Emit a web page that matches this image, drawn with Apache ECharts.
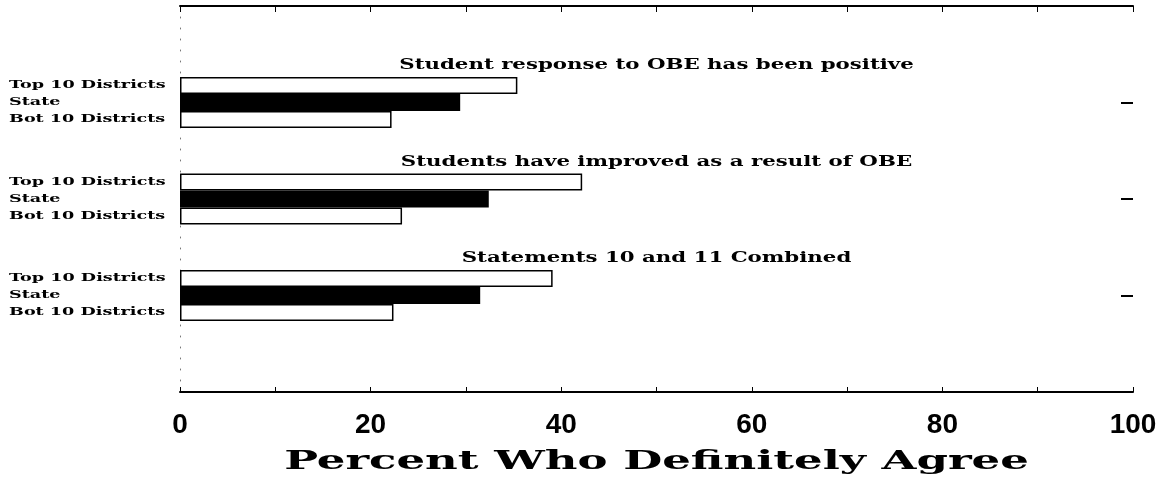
<!DOCTYPE html>
<html>
<head>
<meta charset="utf-8">
<script src="https://cdn.jsdelivr.net/npm/echarts@6/dist/echarts.min.js"></script>
<style>
  html, body { margin: 0; padding: 0; background: #fff; }
  #chart { width: 1167px; height: 479px; }
</style>
</head>
<body>
<div id="chart"></div>
<script>
// Survey statements (one group of bars each)
const statements = [
  'Student response to OBE has been positive',
  'Students have improved as a result of OBE',
  'Statements 10 and 11 Combined'
];
// Row labels inside each group
const rowLabels = ['Top 10 Districts', 'State', 'Bot 10 Districts'];
// Percent who definitely agree
const top10Values = [35.4, 42.2, 39.1];
const stateValues = [29.4, 32.4, 31.5];
const bot10Values = [22.2, 23.3, 22.4];
// Axis tick labels and title
const xTickLabels = ['0', '20', '40', '60', '80', '100'];
const xAxisTitle = 'Percent Who Definitely Agree';

const GRID = { left: 180, right: 34, top: 6, bottom: 87, outerBoundsMode: 'none' };
const BAR_W = 17;

// pad with empty slots above and below so the groups sit on the inner ticks
const cats = [''].concat(statements, ['']);
const pad = arr => [null].concat(arr, [null]);

const outline = { color: '#fff', borderColor: '#000', borderWidth: 1.5 };

const chart = echarts.init(document.getElementById('chart'), null, { renderer: 'canvas' });
chart.setOption({
  animation: false,
  backgroundColor: '#fff',
  grid: GRID,
  xAxis: [
    {
      type: 'value', min: 0, max: 100, interval: 10, position: 'bottom',
      axisLine: { show: true, onZero: false, lineStyle: { color: '#000', width: 2 } },
      axisTick: { show: true, inside: true, length: 5, lineStyle: { color: '#000', width: 1 } },
      splitLine: { show: false },
      axisLabel: {
        margin: 19,
        formatter: v => (v % 20 === 0 ? xTickLabels[v / 20] : ''),
        color: '#000',
        fontFamily: '"Liberation Sans Narrow", "Liberation Sans", sans-serif',
        fontWeight: 'bold',
        fontSize: 28
      }
    },
    {
      type: 'value', min: 0, max: 100, interval: 10, position: 'top',
      axisLine: { show: true, onZero: false, lineStyle: { color: '#000', width: 2 } },
      axisTick: { show: true, inside: true, length: 6, lineStyle: { color: '#000', width: 1 } },
      splitLine: { show: false },
      axisLabel: { show: false }
    }
  ],
  yAxis: [
    {
      type: 'category', data: cats, inverse: true, boundaryGap: false,
      axisLine: { show: true, onZero: false, lineStyle: { color: '#777', width: 1, type: [1, 10] } },
      axisTick: { show: false },
      axisLabel: { show: false },
      splitLine: { show: false }
    },
    {
      type: 'category', data: cats, inverse: true, boundaryGap: false, position: 'right',
      axisLine: { show: false, onZero: false },
      axisTick: {
        show: true, inside: true, length: 12,
        interval: (i, v) => v !== '',
        lineStyle: { color: '#000', width: 2 }
      },
      axisLabel: { show: false },
      splitLine: { show: false }
    }
  ],
  series: [
    { name: rowLabels[0], type: 'bar', data: pad(top10Values), barWidth: BAR_W, barGap: '0%', itemStyle: outline },
    { name: rowLabels[1], type: 'bar', data: pad(stateValues), barWidth: BAR_W, barGap: '0%', itemStyle: { color: '#000' } },
    { name: rowLabels[2], type: 'bar', data: pad(bot10Values), barWidth: BAR_W, barGap: '0%', itemStyle: outline }
  ]
});

// Wide display lettering: text elements stretched horizontally
function wideText(text, x, y, size, stretch, align) {
  return {
    type: 'text', x: x, y: y, scaleX: stretch, silent: true,
    style: {
      text: text,
      font: 'bold ' + size + 'px "DejaVu Serif", serif',
      fill: '#000',
      align: align,
      verticalAlign: 'middle'
    }
  };
}

const midX = chart.convertToPixel({ xAxisIndex: 0 }, 50);
const bottomY = chart.getHeight() - GRID.bottom;
const texts = [];
statements.forEach((s, i) => {
  const cy = chart.convertToPixel({ yAxisIndex: 0 }, s);
  texts.push(wideText(s, midX, cy - 37, 15, 1.42, 'center'));
  rowLabels.forEach((r, k) => {
    texts.push(wideText(r, 9, cy + (k - 1) * BAR_W, 11, 1.6, 'left'));
  });
});
texts.push(wideText(xAxisTitle, midX, bottomY + 70, 26, 1.73, 'center'));

chart.setOption({ graphic: { elements: texts } });
</script>
</body>
</html>
